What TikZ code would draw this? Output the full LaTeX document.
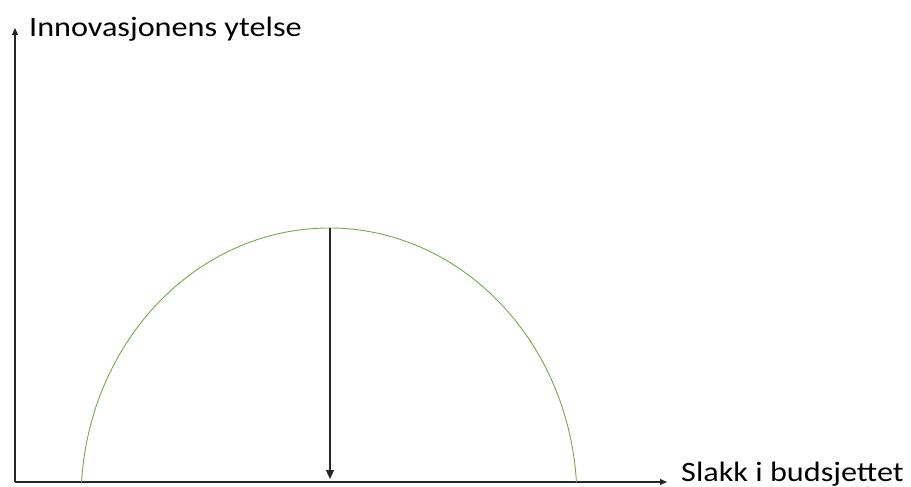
\documentclass[tikz,border=0pt]{standalone}
\usepackage{fontspec}
\setmainfont{Carlito}
\usetikzlibrary{arrows.meta}
\definecolor{arcgreen}{HTML}{70AD47}
\definecolor{axisgray}{HTML}{262626}
\begin{document}
\begin{tikzpicture}[x=1pt,y=-1pt,
  axisline/.style={draw=axisgray,line width=1.1pt,-{Triangle[length=7pt,width=6pt]}},
  downarrow/.style={draw=axisgray,line width=1.1pt,-{Triangle[length=9pt,width=8pt]}},
  curve/.style={draw=arcgreen,line width=0.9pt},
  lbl/.style={font=\fontsize{28}{32}\selectfont,text=black,inner sep=0pt,anchor=base west,xscale=1.15,transform shape}]
\useasboundingbox (0,0) rectangle (911,487);
\coordinate (O) at (15,482);
\coordinate (Ytop) at (15,28);
\coordinate (Xend) at (667,482);
\coordinate (Top) at (330,228);
\coordinate (Bot) at (330,479);
\draw[axisline] (O) -- (Ytop);
\draw[axisline] (O) -- (Xend);
\draw[curve] (329,500) ++(3.8:248 and -272) arc[start angle=3.8,end angle=176.2,x radius=248,y radius=-272];
\draw[downarrow] (Top) -- (Bot);
\node[lbl] (ylab) at (29,37) {Innovasjonens ytelse};
\node[lbl] (xlab) at (681,481) {Slakk i budsjettet};
\end{tikzpicture}
\end{document}
